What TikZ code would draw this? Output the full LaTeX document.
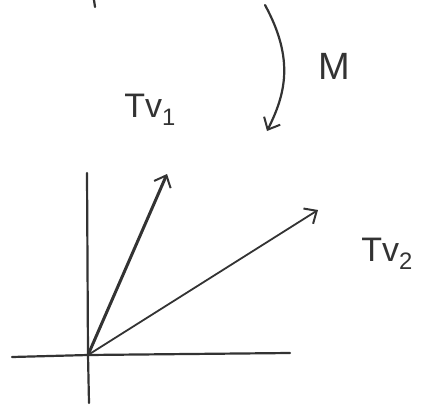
\documentclass[tikz,border=0pt]{standalone}
\usepackage{fontspec}
\setmainfont{Liberation Sans}
\usetikzlibrary{arrows.meta}
\definecolor{ink}{HTML}{333333}
\tikzset{
  pen/.style={draw=ink, line width=2.2pt, line cap=round},
  vec/.style={pen, -{Straight Barb[length=10pt, width=18pt, line width=2pt]}},
  lab/.style={text=ink, font=\fontsize{34}{36}\selectfont, inner sep=0pt}
}
\begin{document}
\begin{tikzpicture}[x=1pt, y=-1pt]
\useasboundingbox (0,0) rectangle (435,414);
% coordinates
\coordinate (O) at (88,355);
\coordinate (xl) at (12,357);
\coordinate (xr) at (290,353);
\coordinate (yt) at (87,173);
\coordinate (yb) at (89,403);
\coordinate (v1) at (167,174);
\coordinate (v2) at (318,210);
\coordinate (mtop) at (265,5);
\coordinate (mbot) at (267,131);
\coordinate (pa) at (94,0);
\coordinate (pb) at (95,7);
% fragment at top
\draw[pen] (pa) -- (pb);
% axes
\draw[pen] (xl) -- (O) -- (xr);
\draw[pen] (yt) -- (O) -- (yb);
% vectors
\draw[vec, line width=3pt] (O) -- (v1);
\draw[vec, line width=1.8pt] (O) -- (v2);
% map arrow
\draw[vec] (mtop) .. controls (295,60) and (285,95) .. (mbot);
% labels
\node[lab, font=\fontsize{38}{40}\selectfont] (M) at (334,66) {M};
\node[lab] (tv1) at (150,110) {Tv\textsubscript{1}};
\node[lab] (tv2) at (387,254) {Tv\textsubscript{2}};
\end{tikzpicture}
\end{document}
